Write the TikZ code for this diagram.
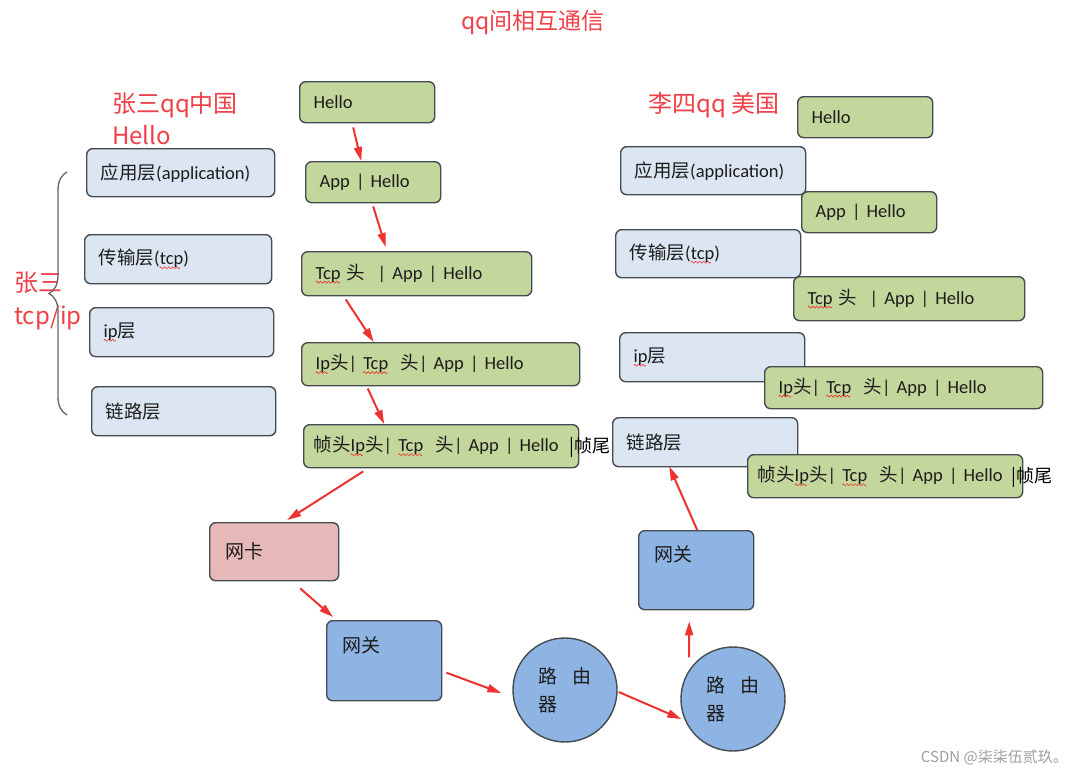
\documentclass[tikz,border=0pt]{standalone}
\usepackage{fontspec}
\setmainfont{Carlito}
\newfontfamily\cjk{Noto Sans CJK SC}
\usetikzlibrary{arrows.meta,decorations.pathreplacing}
\definecolor{lblue}{HTML}{DCE6F2}
\definecolor{lgreen}{HTML}{C3D69B}
\definecolor{lpink}{HTML}{E6B9B8}
\definecolor{mblue}{HTML}{8EB4E3}
\definecolor{edge}{HTML}{454B50}
\definecolor{ared}{HTML}{EE3232}
\definecolor{tred}{HTML}{F04048}
\definecolor{txt}{HTML}{1C1C1C}
\newsavebox\wvbox
\newsavebox\sqtmp
\AtBeginDocument{%
\sbox\wvbox{\begin{pgfpicture}%
 \pgfpathrectangle{\pgfpoint{0pt}{-1.5pt}}{\pgfpoint{4pt}{3pt}}%
 \pgfusepath{use as bounding box}%
 \pgfpathmoveto{\pgfpoint{0pt}{0pt}}%
 \pgfpathcurveto{\pgfpoint{0.8pt}{1.3pt}}{\pgfpoint{1.2pt}{1.3pt}}{\pgfpoint{2pt}{0pt}}%
 \pgfpathcurveto{\pgfpoint{2.8pt}{-1.3pt}}{\pgfpoint{3.2pt}{-1.3pt}}{\pgfpoint{4pt}{0pt}}%
 \pgfsetlinewidth{0.6pt}\pgfsetstrokecolor{ared}%
 \pgfusepath{stroke}%
\end{pgfpicture}}}
\newcommand\sq[1]{\sbox\sqtmp{#1}\rlap{\raisebox{-4.5pt}{\hbox to \wd\sqtmp{\leaders\copy\wvbox\hfill}}}\usebox\sqtmp}
\newcommand\zh[1]{{\cjk #1}}
\begin{document}
\begin{tikzpicture}[x=1pt,y=-1pt,
  base/.style={draw=edge, line width=1.4pt, rounded corners=6pt, align=left,
    inner xsep=14pt, inner ysep=0pt, font=\fontsize{18.5}{22}\selectfont, text=txt,
    anchor=north west},
  layer/.style={base, fill=lblue},
  pkt/.style={base, fill=lgreen},
  hw/.style={base, font=\cjk\fontsize{19}{22}\selectfont},
  gwbox/.style={hw, fill=mblue, text height=31pt, text depth=48pt, inner xsep=16pt},
  router/.style={circle, draw=edge, line width=1.4pt, fill=mblue, minimum size=104pt,
    inner sep=0pt, align=left, text=txt, font=\cjk\fontsize{19}{28}\selectfont},
  tailtxt/.style={anchor=west, inner sep=0pt, text=black, font=\cjk\fontsize{18}{22}\selectfont},
  lbl/.style={inner sep=0pt, align=left, text=tred, font=\cjk\fontsize{24}{32}\selectfont},
  arr/.style={draw=ared, line width=2pt, -{Triangle[length=14pt,width=8pt]}},
  brc/.style={draw=gray!80!black, line width=1.3pt, decorate,
    decoration={brace, amplitude=18pt}},
]
\useasboundingbox (0,0) rectangle (1079,777);
\fill[white] (0,0) rectangle (1079,777);

% titles
\node[lbl, font=\cjk\fontsize{23}{28}\selectfont] (title) at (533,22) {qq间相互通信};
\node[lbl, anchor=west] (zs) at (112,119) {张三qq中国\\Hello};
\node[lbl, anchor=west, font=\cjk\fontsize{24}{33}\selectfont] (zsl) at (14,301) {张三\\tcp/ip};
\node[lbl, anchor=west] (ls) at (648,105) {李四qq 美国};

% brace
\draw[brc] (67,415) -- (67,172);

% left layers
\node[layer, minimum width=184pt, minimum height=48pt, text width=160pt] (la) at (86,148) {\zh{应用层}(application)};
\node[layer, minimum width=187pt, minimum height=49pt, text width=159pt] (lt) at (84,234) {\zh{传输层}(\sq{tcp})};
\node[layer, minimum width=184pt, minimum height=49pt, text width=156pt] (li) at (89,307) {\sq{ip}\zh{层}};
\node[layer, minimum width=184pt, minimum height=49pt, text width=156pt] (ll) at (91,386) {\zh{链路层}};

% left packets
\node[pkt, minimum width=135pt, minimum height=41pt, text width=107pt] (h1) at (299,81) {Hello};
\node[pkt, minimum width=135pt, minimum height=41pt, text width=107pt] (a1) at (305,161) {App | Hello};
\node[pkt, minimum width=230pt, minimum height=44pt, text width=202pt] (t1) at (301,251) {\sq{Tcp} \zh{头} ~| App | Hello};
\node[pkt, minimum width=275pt, minimum height=43pt, text width=250pt] (i1) at (301,342) {\sq{Ip}\zh{头}| \sq{Tcp} ~\zh{头}| App | Hello};
\node[pkt, minimum width=275pt, minimum height=43pt, text width=255pt, inner xsep=10pt] (f1) at (303,424) {\zh{帧头}\sq{Ip}\zh{头}| \sq{Tcp} ~\zh{头}| App | Hello};
\node[tailtxt] (ft1) at ([xshift=-10pt,yshift=-1.5pt]f1.east) {|帧尾};

% hardware
\node[hw, fill=lpink, minimum width=129pt, minimum height=58pt, text width=97pt, inner xsep=16pt] (nk) at (209,522) {网卡};
\node[gwbox, minimum width=115pt, minimum height=80pt, text width=83pt] (gw1) at (326,620) {网关};
\node[gwbox, minimum width=115pt, minimum height=79pt, text width=83pt] (gw2) at (638,530) {网关};
\node[router] (r1) at (565,690) {路\hspace{0.75em}由\\器};
\node[router] (r2) at (733,699) {路\hspace{0.75em}由\\器};

% right layers
\node[layer, minimum width=185pt, minimum height=48pt, text width=157pt] (ra) at (620,146) {\zh{应用层}(application)};
\node[layer, minimum width=185pt, minimum height=48pt, text width=157pt] (rt) at (615,229) {\zh{传输层}(\sq{tcp})};
\node[layer, minimum width=185pt, minimum height=49pt, text width=157pt] (ri) at (619,332) {\sq{ip}\zh{层}};
\node[layer, minimum width=185pt, minimum height=49pt, text width=157pt] (rl) at (612,417) {\zh{链路层}};

% right packets
\node[pkt, minimum width=135pt, minimum height=41pt, text width=107pt] (h2) at (797,96) {Hello};
\node[pkt, minimum width=135pt, minimum height=41pt, text width=107pt] (a2) at (801,191) {App | Hello};
\node[pkt, minimum width=231pt, minimum height=44pt, text width=203pt] (t2) at (793,276) {\sq{Tcp} \zh{头} ~| App | Hello};
\node[pkt, minimum width=276pt, minimum height=42pt, text width=250pt] (i2) at (764,366) {\sq{Ip}\zh{头}| \sq{Tcp} ~\zh{头}| App | Hello};
\node[pkt, minimum width=275pt, minimum height=43pt, text width=255pt, inner xsep=10pt] (f2) at (747,454) {\zh{帧头}\sq{Ip}\zh{头}| \sq{Tcp} ~\zh{头}| App | Hello};
\node[tailtxt] (ft2) at ([xshift=-12pt,yshift=-1.5pt]f2.east) {|帧尾};

% arrows
\draw[arr] ([xshift=-14pt,yshift=-4pt]h1.south) -- ([xshift=-12pt]a1.north);
\draw[arr] ([yshift=-3pt]a1.south) -- ([xshift=-31pt,yshift=4pt]t1.north);
\draw[arr] ([xshift=-71pt,yshift=-3pt]t1.south) -- ([xshift=-67pt]i1.north);
\draw[arr] ([xshift=-73pt,yshift=-2pt]i1.south) -- ([xshift=-57pt]f1.north);
\draw[arr] ([xshift=-78pt,yshift=-3pt]f1.south) -- ([xshift=13pt,yshift=2pt]nk.north);
\draw[arr] ([xshift=26pt,yshift=-7pt]nk.south) -- ([xshift=7pt,yshift=3pt]gw1.north west);
\draw[arr] ([xshift=4pt,yshift=-12pt]gw1.east) -- ([xshift=-11pt,yshift=-3pt]r1.west);
\draw[arr] ([xshift=1pt,yshift=-2pt]r1.east) -- ([xshift=1pt,yshift=-20pt]r2.west);
\draw[arr] ([xshift=-44pt,yshift=-11pt]r2.north) -- ([xshift=-7pt,yshift=-11pt]gw2.south);
\draw[arr] ([xshift=1pt]gw2.north) -- ([xshift=-36pt,yshift=1pt]rl.south);

% watermark
\node[anchor=east, inner sep=0pt, text=gray!75, font=\cjk\fontsize{15}{18}\selectfont] (wm) at (1068,757) {CSDN @柒柒伍贰玖。};
\end{tikzpicture}
\end{document}
